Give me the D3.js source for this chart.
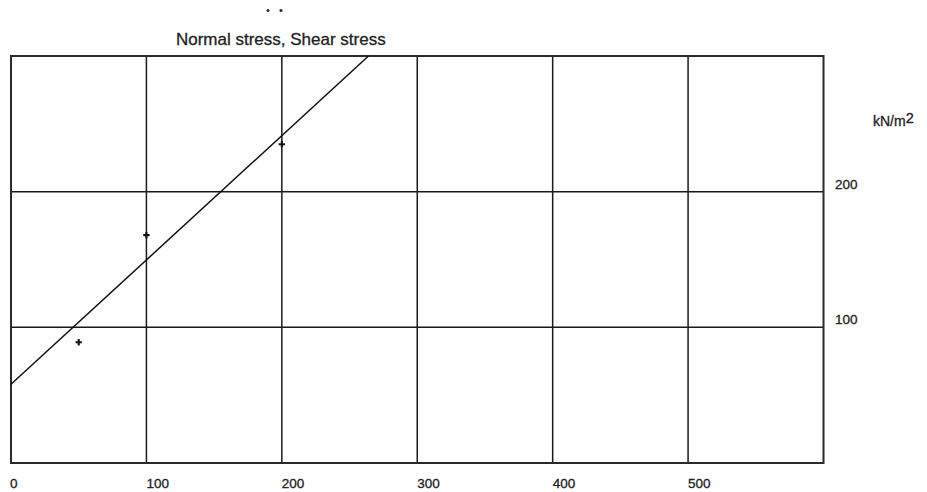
<!DOCTYPE html>
<html>
<head>
<meta charset="utf-8">
<script src="https://cdn.jsdelivr.net/npm/d3@7"></script>
<style>
  html, body { margin: 0; padding: 0; background: #fff; }
  svg { display: block; font-family: "Liberation Sans", Arial, sans-serif; }
  .lbl { stroke: #222; stroke-width: 0.3; }
</style>
</head>
<body>
<svg id="chart" width="927" height="492"></svg>
<script>
// Data
const xTicks = [0, 100, 200, 300, 400, 500];
const yTicks = [100, 200];
const normalStress = [50, 100, 200];
const shearStress = [89, 168, 235];
const fitLineX = [0, 264];
const fitLineY = [58, 300];
const titleText = "Normal stress, Shear stress";
const unitText = "kN/m";
const unitSup = "2";

const svg = d3.select("#chart");
const x = d3.scaleLinear().domain([0, 600]).range([11, 823.5]);
const y = d3.scaleLinear().domain([0, 300]).range([463, 56]);

// Grid lines
svg.append("g").selectAll("line.v").data(xTicks.filter(d => d > 0)).join("line")
  .attr("x1", d => x(d)).attr("x2", d => x(d))
  .attr("y1", y(300)).attr("y2", y(0))
  .attr("stroke", "#1a1a1a").attr("stroke-width", 1.5);
svg.append("g").selectAll("line.h").data(yTicks).join("line")
  .attr("x1", x(0)).attr("x2", x(600))
  .attr("y1", d => y(d)).attr("y2", d => y(d))
  .attr("stroke", "#1a1a1a").attr("stroke-width", 1.5);

// Frame
svg.append("rect")
  .attr("x", x(0)).attr("y", y(300))
  .attr("width", x(600) - x(0)).attr("height", y(0) - y(300))
  .attr("fill", "none").attr("stroke", "#2a2a2a").attr("stroke-width", 2);

// Fit line
const lineData = fitLineX.map((d, i) => [d, fitLineY[i]]);
svg.append("path")
  .datum(lineData)
  .attr("d", d3.line().x(d => x(d[0])).y(d => y(d[1])))
  .attr("fill", "none").attr("stroke", "#111").attr("stroke-width", 1.5);

// Points
const pts = normalStress.map((d, i) => [d, shearStress[i]]);
svg.append("g").selectAll("path").data(pts).join("path")
  .attr("transform", d => `translate(${x(d[0])},${y(d[1])})`)
  .attr("d", d3.symbol(d3.symbolCross, 22))
  .attr("fill", "#111");

// X tick labels
svg.append("g").selectAll("text").data(xTicks).join("text")
  .attr("class", "lbl")
  .attr("x", d => x(d) - (d === 0 ? 1 : 0)).attr("y", 488)
  .attr("font-size", 13.5).attr("fill", "#222")
  .text(d => d);

// Y tick labels (right side)
svg.append("g").selectAll("text").data(yTicks).join("text")
  .attr("class", "lbl")
  .attr("x", 835).attr("y", d => y(d) - 3)
  .attr("font-size", 13.5).attr("fill", "#222")
  .text(d => d);

// Unit label
const unit = svg.append("text")
  .attr("class", "lbl")
  .attr("x", 873).attr("y", 126)
  .attr("font-size", 14).attr("fill", "#222");
unit.append("tspan").text(unitText);
unit.append("tspan").attr("dy", -3).attr("font-size", 14.5).text(unitSup);

// Title
svg.append("text")
  .attr("class", "lbl")
  .attr("x", x(200) - 1).attr("y", 45)
  .attr("text-anchor", "middle")
  .attr("font-size", 17).attr("fill", "#222")
  .text(titleText);

// Cropped glyph fragments at top
svg.append("text").attr("x", 268).attr("y", 14).attr("text-anchor", "middle")
  .attr("font-size", 11).attr("fill", "#222").text("•");
svg.append("text").attr("x", 281).attr("y", 14).attr("text-anchor", "middle")
  .attr("font-size", 11).attr("fill", "#222").text("•");
</script>
</body>
</html>
